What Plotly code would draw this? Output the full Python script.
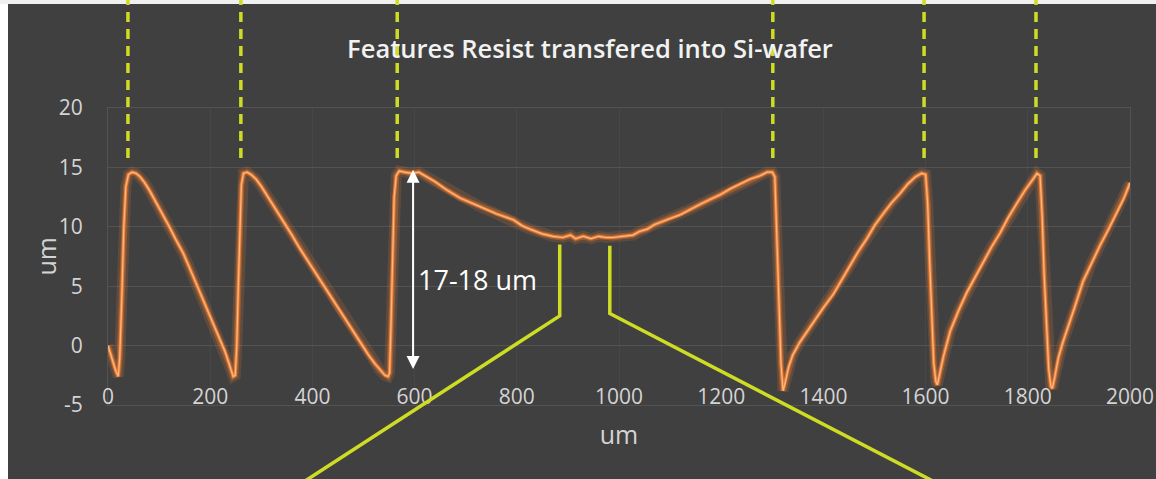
import plotly.graph_objects as go

# Surface profile across the etched features: lateral position (um) and height (um)
x_um = [
    0, 8, 15, 20, 23, 27, 31, 35, 40, 47, 55, 63, 72, 82, 95, 108, 120, 133, 147,
    160, 172, 185, 197, 209, 220, 229, 236, 241, 245,
    249, 252, 255, 258, 261, 265, 272, 280, 290, 300, 315, 330, 345, 360, 375,
    390, 405, 420, 435, 450, 465, 480, 495, 510, 522, 533, 542, 548,
    551, 554, 557, 560, 564, 570, 580, 595, 608, 616, 640, 663, 690, 728, 760,
    793, 810, 826, 850, 871, 890, 905, 915, 930, 945, 960, 975, 988, 1005, 1027,
    1040, 1055, 1070, 1086, 1100, 1119, 1140, 1159, 1178, 1198, 1218, 1237, 1256,
    1276, 1290, 1300,
    1305, 1309, 1313, 1317, 1321, 1326, 1332, 1340, 1354, 1370, 1385, 1400, 1419,
    1435, 1452, 1468, 1485, 1500, 1517, 1533, 1550, 1565, 1580, 1592, 1600,
    1604, 1608, 1612, 1616, 1620, 1623, 1628, 1635, 1648, 1665, 1681, 1697, 1712,
    1729, 1746, 1762, 1779, 1795, 1810, 1818, 1824,
    1828, 1832, 1837, 1841, 1845, 1848, 1853, 1860, 1868, 1877, 1893, 1908, 1925,
    1941, 1958, 1974, 1988, 2000,
]
height_um = [
    0.0, -1.2, -2.1, -2.6, -1.0, 4.0, 10.0, 13.4, 14.4, 14.6, 14.5, 14.2, 13.7, 13.0,
    12.0, 11.0, 10.0, 8.9, 7.8, 6.5, 5.3, 4.0, 2.8, 1.5, 0.4, -0.5, -1.4, -2.1, -2.6,
    -2.5, 0.0, 5.0, 10.5, 13.5, 14.5, 14.6, 14.4, 14.0, 13.4, 12.4, 11.3, 10.3, 9.3,
    8.2, 7.2, 6.2, 5.2, 4.2, 3.1, 2.1, 1.1, 0.1, -0.8, -1.5, -2.1, -2.5, -2.6,
    -2.3, 2.0, 8.0, 12.5, 14.3, 14.7, 14.6, 14.5, 14.6, 14.4, 13.8, 13.1, 12.4, 11.7,
    11.1, 10.6, 10.1, 9.8, 9.4, 9.2, 9.1, 9.3, 9.0, 9.2, 9.0, 9.2, 9.1, 9.1, 9.2, 9.3,
    9.6, 9.8, 10.2, 10.5, 10.7, 11.0, 11.5, 11.9, 12.3, 12.7, 13.2, 13.6, 14.0,
    14.3, 14.6, 14.6,
    14.2, 9.0, 3.0, -1.5, -3.8, -3.0, -1.8, -0.8, 0.3, 1.3, 2.3, 3.2, 4.3,
    5.5, 6.7, 7.9, 9.0, 10.1, 11.1, 12.0, 12.8, 13.6, 14.2, 14.5, 14.4,
    12.0, 7.0, 2.0, -1.5, -3.0, -3.3, -2.3, -0.9, 1.2, 3.0, 4.5, 5.8, 7.0,
    8.3, 9.5, 10.8, 12.0, 13.1, 14.0, 14.5, 14.3,
    11.0, 6.0, 1.0, -2.0, -3.4, -3.6, -2.6, -1.0, 0.2, 1.3, 3.4, 5.4, 7.0,
    8.4, 9.8, 11.2, 12.4, 13.7,
]

# Feature edges marked by the dashed guides (um)
edge_x = [39, 260, 566, 1301, 1597, 1816]

x_ticks = list(range(0, 2001, 200))
y_ticks = [-5, 0, 5, 10, 15, 20]
X_RANGE = [0, 2000]
Y_RANGE = [-5, 20]

# Step-height marker and its label
step_x = 597
step_bottom, step_top = -2.1, 14.8
step_label = "17-18 um"

BG = "#404040"
GRID = "#535353"
VGRID = "#474747"
TEXT = "#d4d4d4"
ORANGE = "#ED7D31"
GUIDE = "#CFDC24"
FONT = "Open Sans, sans-serif"

PLOT_L, PLOT_R, PLOT_T, PLOT_B = 108, 26, 108, 74
PLOT_W = 1156 - PLOT_L - PLOT_R
PLOT_H = 479 - PLOT_T - PLOT_B


def yp(v):
    """Data height -> paper fraction of the plot area."""
    return (v - Y_RANGE[0]) / (Y_RANGE[1] - Y_RANGE[0])


fig = go.Figure()

# soft glow, body and bright core of the profile line
for width, color in [(11, "rgba(237,125,49,0.18)"), (6, "rgba(237,125,49,0.35)"),
                     (3.2, ORANGE), (1.2, "#F9B98A")]:
    fig.add_trace(go.Scatter(x=x_um, y=height_um, mode="lines",
                             line=dict(color=color, width=width),
                             hoverinfo="skip", showlegend=False))

shapes = [
    # white frame strips along the left and top edges
    dict(type="rect", xref="paper", yref="paper", x0=-0.12, x1=(8 - PLOT_L) / PLOT_W,
         y0=-0.3, y1=1.4, fillcolor="white", line_width=0, layer="above"),
    dict(type="rect", xref="paper", yref="paper", x0=-0.12, x1=1.05,
         y0=(PLOT_T + PLOT_H - 4) / PLOT_H, y1=1.4, fillcolor="#f0f0f0",
         line_width=0, layer="above"),
]

# dashed guides rising from each feature edge
for ex in edge_x:
    shapes.append(dict(type="line", xref="x", yref="paper", x0=ex, x1=ex,
                       y0=yp(15.8), y1=1.4,
                       line=dict(color=GUIDE, width=3.5, dash="10px,7px"),
                       layer="above"))

# zoom-out callout below the flat bottom of the wide trench
left_top, right_top = 884, 982
shapes.append(dict(type="path", xref="x", yref="paper",
                   path=f"M {left_top},{yp(8.5)} L {left_top},{yp(2.5)} L 373,-0.27",
                   line=dict(color=GUIDE, width=3.5), layer="above"))
shapes.append(dict(type="path", xref="x", yref="paper",
                   path=f"M {right_top},{yp(8.4)} L {right_top},{yp(2.7)} L 1630,-0.27",
                   line=dict(color=GUIDE, width=3.5), layer="above"))

annotations = [
    dict(x=step_x, y=step_top, ax=step_x, ay=step_bottom, xref="x", yref="y",
         axref="x", ayref="y", text="", showarrow=True, arrowhead=2,
         startarrowhead=2, arrowside="end+start", arrowsize=1.3,
         startarrowsize=1.3, arrowwidth=2, arrowcolor="white"),
    dict(x=603, y=5.6, xref="x", yref="y", text=step_label, showarrow=False,
         xanchor="left", yanchor="middle",
         font=dict(family=FONT, size=27, color="white")),
    # vertical axis title
    dict(x=(45 - PLOT_L) / PLOT_W, y=0.5, xref="paper", yref="paper", text="um",
         textangle=-90, showarrow=False, xanchor="center", yanchor="middle",
         font=dict(family=FONT, size=25, color=TEXT)),
]

fig.update_layout(
    width=1156, height=479,
    margin=dict(l=PLOT_L, r=PLOT_R, t=PLOT_T, b=PLOT_B, autoexpand=False),
    paper_bgcolor=BG, plot_bgcolor=BG,
    font=dict(family=FONT, color=TEXT, size=21),
    title=dict(text="Features Resist transfered into Si-wafer",
               x=590 / 1156, xref="container", xanchor="center",
               y=1 - 49 / 479, yref="container", yanchor="middle",
               font=dict(family=FONT, size=25.5, color="#f2f2f2", weight=600)),
    shapes=shapes, annotations=annotations,
    showlegend=False,
)
fig.update_xaxes(
    range=X_RANGE, tickvals=x_ticks, ticktext=[str(v) for v in x_ticks],
    ticklabelstandoff=-27, ticklabeloverflow="allow", automargin=False,
    showgrid=True, gridcolor=VGRID, gridwidth=1,
    zeroline=False, showline=True, linecolor=GRID, mirror=True,
    tickfont=dict(size=21, color=TEXT),
    title=dict(text="um", font=dict(size=25, color=TEXT), standoff=17),
)
fig.update_yaxes(
    range=Y_RANGE, tickvals=y_ticks, ticktext=[str(v) for v in y_ticks],
    showgrid=True, gridcolor=GRID, gridwidth=1, zeroline=False, automargin=False,
    showline=True, linecolor=GRID, mirror=True, ticklabelstandoff=20,
    tickfont=dict(size=21, color=TEXT),
)

fig.write_html("out.html")
